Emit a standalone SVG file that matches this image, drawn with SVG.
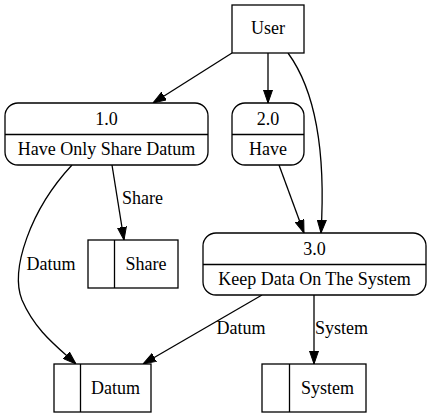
<svg xmlns="http://www.w3.org/2000/svg" width="431" height="419" viewBox="0 0 431 419">
<defs>
<marker id="ah" markerWidth="13" markerHeight="10" refX="13" refY="5" orient="auto" markerUnits="userSpaceOnUse">
<polygon points="0,0.5 13,5 0,9.5" fill="#000" stroke="#000" stroke-width="1"/>
</marker>
</defs>
<style>
text{font-family:"Liberation Serif",serif;font-size:18px;fill:#000;text-anchor:middle}
.n{fill:#fff;stroke:#000;stroke-width:1.3}
.d{stroke:#000;stroke-width:1.3}
.e{fill:none;stroke:#000;stroke-width:1.3;marker-end:url(#ah)}
.l{text-anchor:start}
</style>
<rect width="431" height="419" fill="#fff"/>
<g id="connectors">
<path class="e" d="M232,53 L153,103"/>
<path class="e" d="M268,53 L268,103"/>
<path class="e" d="M288,53 C315,90 326,150 321,233"/>
<path class="e" d="M279,165 L304,233"/>
<path class="e" d="M112,165 L124,240"/>
<text class="l" x="122" y="204">Share</text>
<path class="e" d="M72,165 C30,210 10,270 22,300 C35,330 55,345 76,364"/>
<text x="51" y="270">Datum</text>
<path class="e" d="M262,295 L143,364"/>
<text x="241" y="334">Datum</text>
<path class="e" d="M314,295 L314,364"/>
<text class="l" x="315" y="334">System</text>
</g>
<g id="User">
<rect class="n" x="232" y="5" width="72" height="48"/>
<text x="268" y="34">User</text>
</g>
<g id="p1">
<rect class="n" x="5" y="103" width="203" height="62" rx="13"/>
<line class="d" x1="5" y1="134.5" x2="208" y2="134.5"/>
<text x="106.5" y="125">1.0</text>
<text x="106.5" y="155">Have Only Share Datum</text>
</g>
<g id="p2">
<rect class="n" x="232" y="103" width="72" height="62" rx="13"/>
<line class="d" x1="232" y1="134.5" x2="304" y2="134.5"/>
<text x="268" y="125">2.0</text>
<text x="268" y="155">Have</text>
</g>
<g id="p3">
<rect class="n" x="203" y="233" width="223" height="62" rx="13"/>
<line class="d" x1="203" y1="264.5" x2="426" y2="264.5"/>
<text x="314.5" y="255">3.0</text>
<text x="314.5" y="285">Keep Data On The System</text>
</g>
<g id="Share">
<rect class="n" x="88" y="240" width="90" height="48"/>
<line class="d" x1="114.5" y1="240" x2="114.5" y2="288"/>
<text x="146" y="270">Share</text>
</g>
<g id="Datum">
<rect class="n" x="54" y="364" width="97" height="48"/>
<line class="d" x1="80.5" y1="364" x2="80.5" y2="412"/>
<text x="115.5" y="394">Datum</text>
</g>
<g id="System">
<rect class="n" x="262" y="364" width="104" height="48"/>
<line class="d" x1="289.5" y1="364" x2="289.5" y2="412"/>
<text x="327.5" y="394">System</text>
</g>
</svg>
